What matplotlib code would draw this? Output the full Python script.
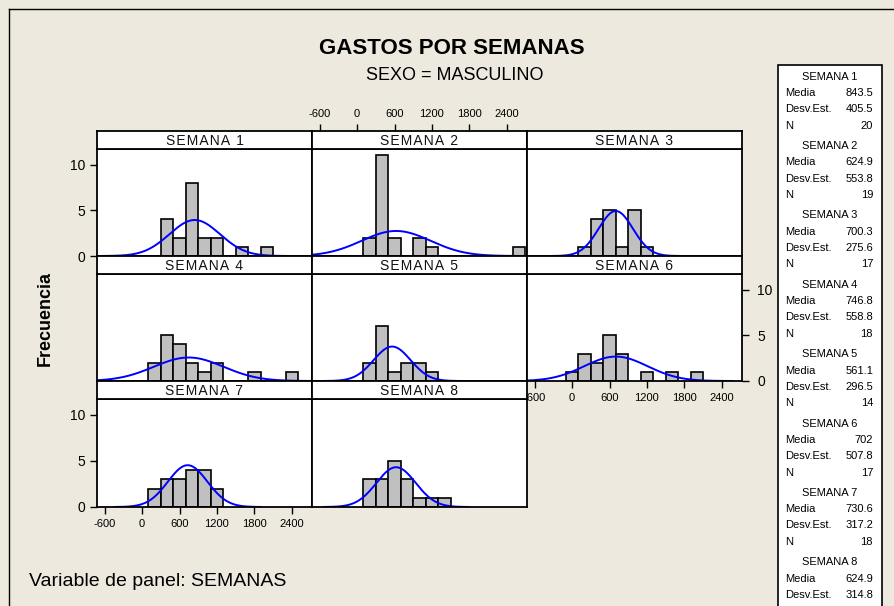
import matplotlib
matplotlib.use('Agg')
import matplotlib.pyplot as plt
from matplotlib.patches import Rectangle
from matplotlib.lines import Line2D
import numpy as np

plt.rcParams['font.family'] = ['Liberation Sans', 'DejaVu Sans']
plt.rcParams['axes.unicode_minus'] = False

# data
semanas = ['SEMANA 1', 'SEMANA 2', 'SEMANA 3', 'SEMANA 4',
           'SEMANA 5', 'SEMANA 6', 'SEMANA 7', 'SEMANA 8']
bin_centers = [0, 200, 400, 600, 800, 1000, 1200, 1400, 1600, 1800, 2000, 2200, 2400, 2600]
counts_s1 = [0, 0, 4, 2, 8, 2, 2, 0, 1, 0, 1, 0, 0, 0]
counts_s2 = [0, 2, 11, 2, 0, 2, 1, 0, 0, 0, 0, 0, 0, 1]
counts_s3 = [0, 1, 4, 5, 1, 5, 1, 0, 0, 0, 0, 0, 0, 0]
counts_s4 = [0, 2, 5, 4, 2, 1, 2, 0, 0, 1, 0, 0, 1, 0]
counts_s5 = [0, 2, 6, 1, 2, 2, 1, 0, 0, 0, 0, 0, 0, 0]
counts_s6 = [1, 3, 2, 5, 3, 0, 1, 0, 1, 0, 1, 0, 0, 0]
counts_s7 = [0, 2, 3, 3, 4, 4, 2, 0, 0, 0, 0, 0, 0, 0]
counts_s8 = [0, 3, 3, 5, 3, 1, 1, 1, 0, 0, 0, 0, 0, 0]
medias = [843.5, 624.9, 700.3, 746.8, 561.1, 702, 730.6, 624.9]
desv = [405.5, 553.8, 275.6, 558.8, 296.5, 507.8, 317.2, 314.8]
n_obs = [20, 19, 17, 18, 14, 17, 18, 17]
x_ticks = [-600, 0, 600, 1200, 1800, 2400]
y_ticks = [0, 5, 10]

all_counts = [counts_s1, counts_s2, counts_s3, counts_s4,
              counts_s5, counts_s6, counts_s7, counts_s8]
bin_width = 200

W, H = 895, 606
fig = plt.figure(figsize=(W / 100, H / 100), dpi=100)
fig.patch.set_facecolor('#EDE9DF')


def fx(x):
    return x / W


def fy(y):
    return 1 - y / H


col_left = [97, 312, 527]
row_top = [131, 256, 381]
row_bottom = [256, 381, 507]
strip_h = 18
panel_w = 215
xlim = (-724, 2725)
ylim = (0, 11.7)


def style_ticks(ax):
    ax.tick_params(direction='out', length=5, width=1, colors='black')


for i, name in enumerate(semanas):
    r, c = i // 3, i % 3
    left = col_left[c]
    top = row_top[r]
    bottom = row_bottom[r]

    ax = fig.add_axes([fx(left), fy(bottom), panel_w / W, (bottom - top - strip_h) / H])
    ax.set_facecolor('white')
    cnt = all_counts[i]
    xs_b = [b for b, k in zip(bin_centers, cnt) if k > 0]
    hs_b = [k for k in cnt if k > 0]
    ax.bar(xs_b, hs_b, width=bin_width, color='#C0C0C0', edgecolor='black', linewidth=1.2)

    # fitted normal curve scaled to counts
    m, s, n = medias[i], desv[i], n_obs[i]
    xs = np.linspace(m - 3.7 * s, m + 3.7 * s, 300)
    ys = n * bin_width * np.exp(-0.5 * ((xs - m) / s) ** 2) / (s * np.sqrt(2 * np.pi))
    ax.plot(xs, ys, color='#0000FF', lw=1.4)

    ax.set_xlim(*xlim)
    ax.set_ylim(*ylim)
    for sp in ax.spines.values():
        sp.set_linewidth(1.3)
    ax.set_xticks([])
    ax.set_yticks([])

    # strip on top of the panel
    sax = fig.add_axes([fx(left), fy(top + strip_h), panel_w / W, strip_h / H])
    sax.set_facecolor('white')
    sax.set_xlim(*xlim)
    sax.set_xticks([])
    sax.set_yticks([])
    for sp in sax.spines.values():
        sp.set_linewidth(1.3)
    sax.text(0.5, 0.45, '\u200a'.join(name), ha='center', va='center', fontsize=10,
             transform=sax.transAxes, color='#111111')

    if i in (0, 6):
        ax.set_yticks(y_ticks)
        ax.tick_params(axis='y', labelsize=10)
    if i == 5:
        ax.yaxis.tick_right()
        ax.set_yticks(y_ticks)
        ax.tick_params(axis='y', labelsize=10, pad=6)
    if i in (5, 6):
        ax.set_xticks(x_ticks)
        ax.tick_params(axis='x', labelsize=8)
    if i == 1:
        sax.xaxis.tick_top()
        sax.set_xticks(x_ticks)
        sax.tick_params(axis='x', labelsize=8)
    style_ticks(ax)
    style_ticks(sax)

# titles
fig.text(fx(452), fy(48), 'GASTOS POR SEMANAS', ha='center', va='center',
         fontsize=16, fontweight='bold')
fig.text(fx(455), fy(75), 'SEXO = MASCULINO', ha='center', va='center', fontsize=13)
fig.text(fx(45), fy(318), 'Frecuencia', ha='center', va='center', rotation=90,
         fontsize=13, fontweight='bold')
fig.text(fx(29), fy(581), 'Variable de panel: SEMANAS', ha='left', va='center', fontsize=14)

# legend box with the statistics
fig.patches.append(Rectangle((fx(778), fy(640)), (882 - 778) / W, (640 - 65) / H,
                             transform=fig.transFigure, facecolor='white',
                             edgecolor='black', lw=1.2, zorder=0))
fs_leg = 8
for i, name in enumerate(semanas):
    y0 = 76.6 + i * 69.4
    rows = [('Media', f'{medias[i]:g}', 16.5),
            ('Desv.Est.', f'{desv[i]:g}', 32.5),
            ('N', str(n_obs[i]), 49)]
    fig.text(fx(830), fy(y0), name, ha='center', va='center', fontsize=fs_leg)
    for lab, val, dy in rows:
        if y0 + dy > H - 6:
            continue
        fig.text(fx(785), fy(y0 + dy), lab, ha='left', va='center', fontsize=fs_leg)
        fig.text(fx(873), fy(y0 + dy), val, ha='right', va='center', fontsize=fs_leg)

# outer frame
fig.add_artist(Line2D([fx(9), fx(9)], [fy(9), fy(606)], color='black', lw=1,
                      transform=fig.transFigure))
fig.add_artist(Line2D([fx(9), fx(895)], [fy(9), fy(9)], color='black', lw=1,
                      transform=fig.transFigure))

fig.savefig('out.png', dpi=100, facecolor=fig.get_facecolor())
